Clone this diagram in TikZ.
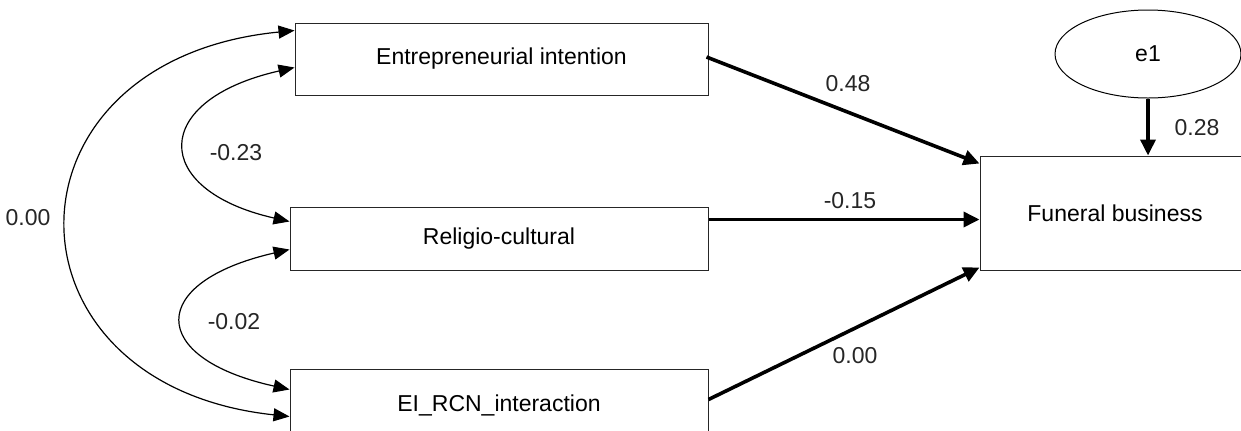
\documentclass[tikz,border=0pt]{standalone}
\usepackage{fontspec}
\setmainfont{Liberation Sans}
\usetikzlibrary{arrows.meta,calc,shapes.geometric}
\begin{document}
\begin{tikzpicture}[x=0.5pt,y=-0.5pt,
  font=\fontsize{11.5}{14}\selectfont,
  var/.style={draw=black!85,line width=0.5pt,rectangle,inner sep=0pt},
  err/.style={draw=black,line width=0.5pt,ellipse,inner sep=0pt,minimum width=93pt,minimum height=44pt},
  cov/.style={line width=0.6pt,{Triangle[length=8pt,width=6.5pt]}-{Triangle[length=8pt,width=6.5pt]}},
  path/.style={line width=1.8pt,-{Triangle[length=8pt,width=7.5pt]}},
  lbl/.style={inner sep=0pt,text=black!85}]
\useasboundingbox (0,0) rectangle (1241,430);
\clip (0,0) rectangle (1241,430);
\node[var,minimum width=206.5pt,minimum height=36pt] (b1) at (501.5,59) {Entrepreneurial intention};
\node[var,minimum width=209pt,minimum height=31.5pt] (b2) at (499,238.5) {Religio-cultural};
\node[var,minimum width=209pt,minimum height=36pt] (b3) at (499,405) {EI\_RCN\_interaction};
\node[var,minimum width=135pt,minimum height=57pt] (fb) at (1115,213) {Funeral business};
\node[err] (e1) at (1148,54) {e1};
% covariances
\draw[cov] ($(b1.north west)+(0,8)$) .. controls (-7,60) and (-7,385) .. ($(b3.north west)+(0,48)$);
\draw[cov] ($(b1.north west)+(0,45)$) .. controls (150,100) and (150,190) .. ($(b2.north west)+(0,15)$);
\draw[cov] ($(b2.north west)+(0,43)$) .. controls (147,282) and (147,358) .. ($(b3.north west)+(0,21)$);
% paths
\draw[path] ($(b1.east)+(-2,-2)$) -- ($(fb.north west)+(0,8)$);
\draw[path] ($(b2.north east)+(0,13)$) -- ($(fb.north west)+(0,64)$);
\draw[path] ($(b3.north east)+(0,31)$) -- ($(fb.south west)+(0,-3)$);
\draw[path] (e1.south) -- (e1.south |- fb.north);
% labels
\node[lbl] (l1) at (848,84) {0.48};
\node[lbl] (l2) at (850,201) {-0.15};
\node[lbl] (l3) at (855,356) {0.00};
\node[lbl] (l4) at (1197,128) {0.28};
\node[lbl] (l5) at (236,153) {-0.23};
\node[lbl] (l6) at (234,322) {-0.02};
\node[lbl] (l7) at (28,218) {0.00};
\end{tikzpicture}
\end{document}
